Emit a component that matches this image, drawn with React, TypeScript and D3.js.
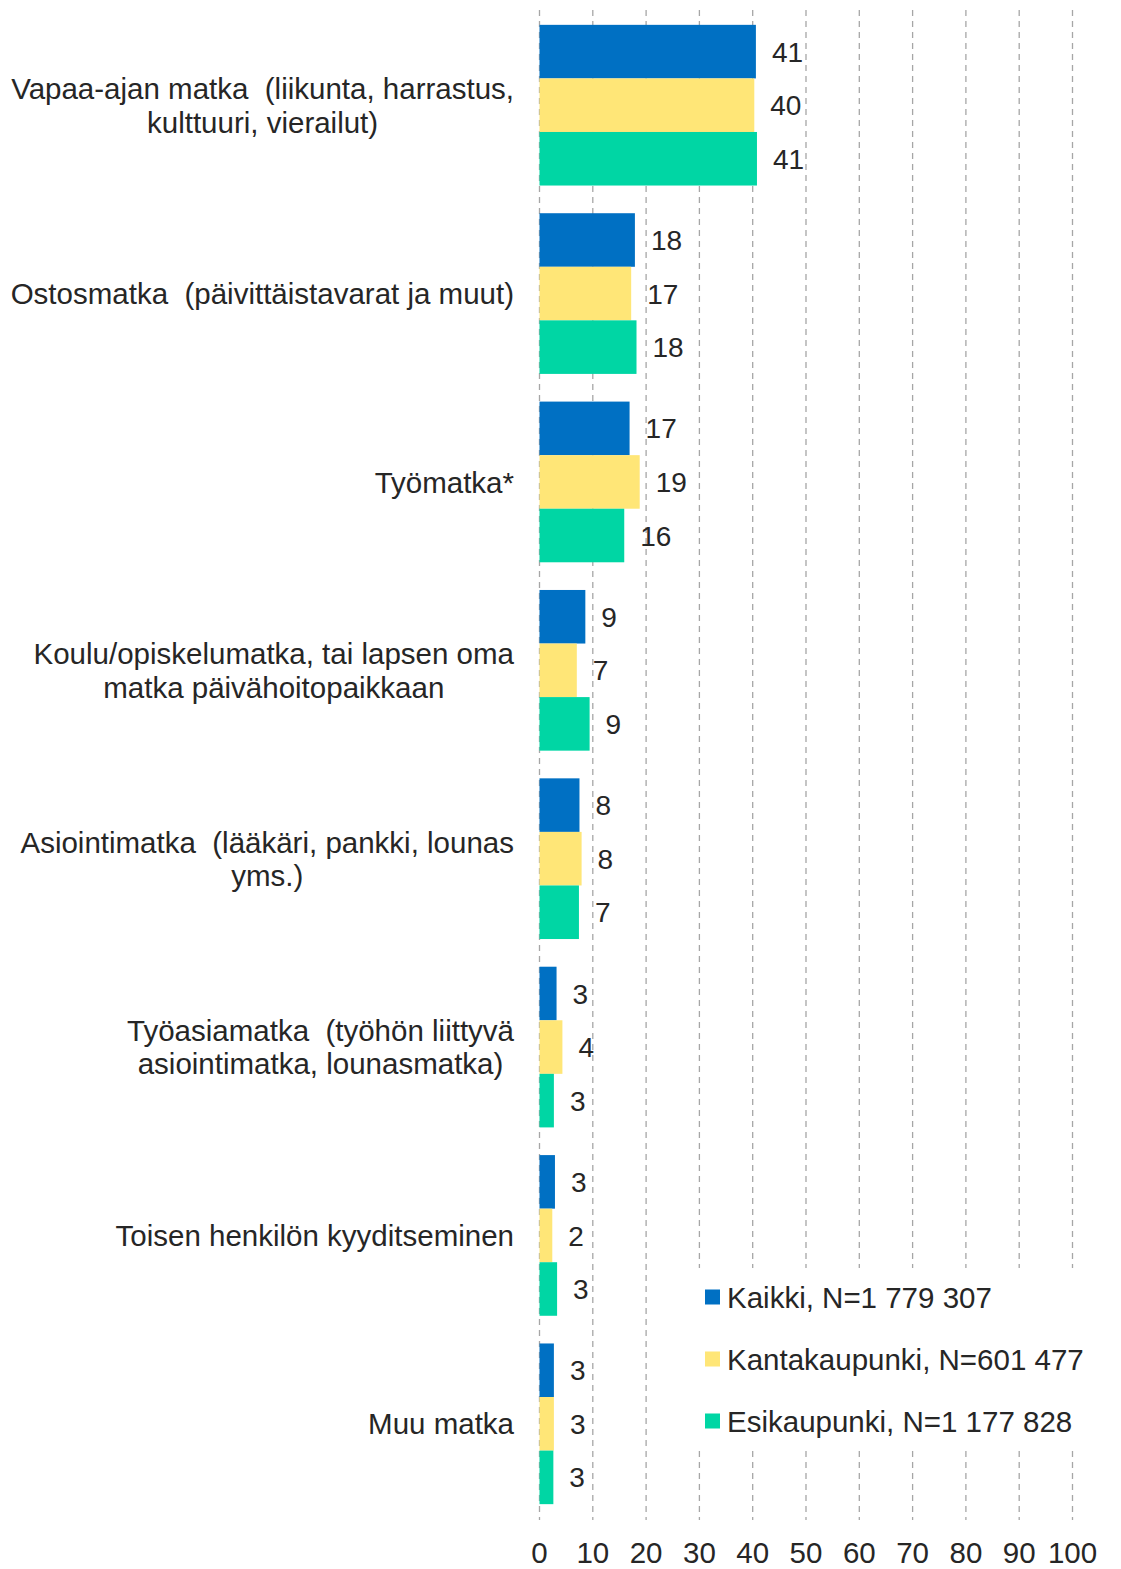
import * as d3 from "d3";

const categories = [
  ["Vapaa-ajan matka  (liikunta, harrastus,", "kulttuuri, vierailut)"],
  ["Ostosmatka  (päivittäistavarat ja muut)"],
  ["Työmatka*"],
  ["Koulu/opiskelumatka, tai lapsen oma", "matka päivähoitopaikkaan"],
  ["Asiointimatka  (lääkäri, pankki, lounas", "yms.)"],
  ["Työasiamatka  (työhön liittyvä", "asiointimatka, lounasmatka)"],
  ["Toisen henkilön kyyditseminen"],
  ["Muu matka"],
];

const seriesNames = [
  "Kaikki, N=1 779 307",
  "Kantakaupunki, N=601 477",
  "Esikaupunki, N=1 177 828",
];
const seriesColors = ["#0070c3", "#ffe677", "#00d6a4"];

// arvot prosentteina, luettu kuvasta
const kaikki = [40.6, 17.9, 16.9, 8.6, 7.5, 3.2, 2.9, 2.7];
const kantakaupunki = [40.3, 17.2, 18.8, 7.0, 7.9, 4.3, 2.4, 2.7];
const esikaupunki = [40.8, 18.2, 15.9, 9.4, 7.4, 2.7, 3.3, 2.6];
const series = [kaikki, kantakaupunki, esikaupunki];

const xTicks = [0, 10, 20, 30, 40, 50, 60, 70, 80, 90, 100];

const W = 1121;
const H = 1569;
const font = "'Liberation Sans', Arial, sans-serif";
const textColor = "#262626";
const labelSize = 29.5;

// tekstin leveys canvasilla, jotta monirivinen nimi voidaan keskittää
const ctx = document.createElement("canvas").getContext("2d");
function textWidth(s: string, size: number) {
  if (!ctx) return s.length * size * 0.5;
  ctx.font = `${size}px ${font}`;
  return ctx.measureText(s).width;
}

export default function App() {
  const x = d3.scaleLinear().domain([0, 100]).range([539.5, 1072.5]);
  const y = d3
    .scaleBand<number>()
    .domain(d3.range(categories.length))
    .range([11, 1518])
    .paddingInner(0.147)
    .paddingOuter(0.0735);
  const yInner = d3
    .scaleBand<number>()
    .domain(d3.range(series.length))
    .range([0, y.bandwidth()]);

  const labelRight = 514;

  return (
    <div style={{ position: "absolute", left: 0, top: 0 }}>
      <svg width={W} height={H} style={{ display: "block", fontFamily: font }}>
        <rect width={W} height={H} fill="#fff" />
        {xTicks.map((t) => (
          <line
            key={t}
            x1={x(t)}
            x2={x(t)}
            y1={10}
            y2={1520}
            stroke="#a6a6a6"
            strokeWidth={1.3}
            strokeDasharray="6 5"
          />
        ))}
        {categories.map((lines, i) => {
          const cy = (y(i) ?? 0) + y.bandwidth() / 2;
          const lh = 33.5;
          const y0 = cy - ((lines.length - 1) * lh) / 2;
          const maxW = d3.max(lines, (l) => textWidth(l, labelSize)) ?? 0;
          const cx = labelRight - maxW / 2;
          return (
            <g key={i}>
              {series.map((s, k) => (
                <rect
                  key={k}
                  x={x(0)}
                  y={(y(i) ?? 0) + (yInner(k) ?? 0)}
                  width={x(s[i]) - x(0)}
                  height={yInner.bandwidth()}
                  fill={seriesColors[k]}
                />
              ))}
              {series.map((s, k) => (
                <text
                  key={"v" + k}
                  x={x(s[i]) + 16}
                  y={(y(i) ?? 0) + (yInner(k) ?? 0) + yInner.bandwidth() / 2}
                  dy="0.36em"
                  fontSize={28}
                  fill={textColor}
                >
                  {Math.round(s[i])}
                </text>
              ))}
              {lines.map((l, j) => (
                <text
                  key={"c" + j}
                  x={cx}
                  y={y0 + j * lh}
                  dy="0.36em"
                  textAnchor="middle"
                  fontSize={labelSize}
                  fill={textColor}
                  style={{ whiteSpace: "pre" }}
                >
                  {l}
                </text>
              ))}
            </g>
          );
        })}
        {xTicks.map((t) => (
          <text
            key={"t" + t}
            x={x(t)}
            y={1563}
            textAnchor="middle"
            fontSize={29.5}
            fill={textColor}
          >
            {t}
          </text>
        ))}
        <rect x={697} y={1268} width={403} height={180} fill="#fff" />
        {seriesNames.map((n, k) => {
          const ly = 1297 + k * 62;
          return (
            <g key={n}>
              <rect x={705} y={ly - 7.5} width={15} height={15} fill={seriesColors[k]} />
              <text x={727} y={ly} dy="0.36em" fontSize={29.5} fill={textColor}>
                {n}
              </text>
            </g>
          );
        })}
      </svg>
    </div>
  );
}
